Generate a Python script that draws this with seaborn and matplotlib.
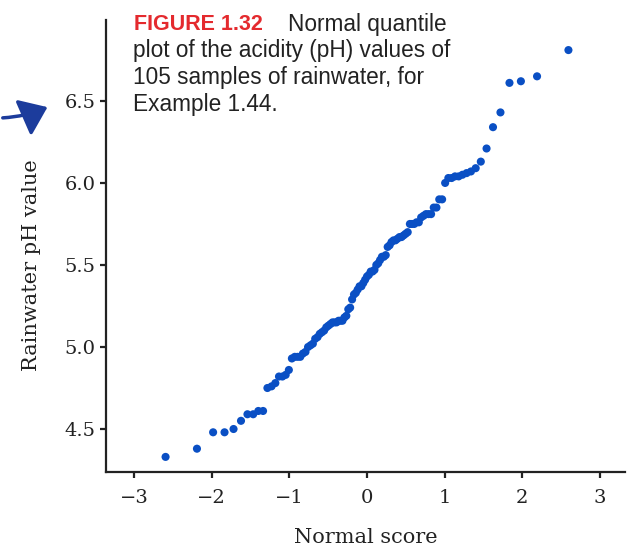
import matplotlib
matplotlib.use("Agg")
import matplotlib.pyplot as plt
from matplotlib.patches import FancyArrowPatch
import pandas as pd
import seaborn as sns

# Normal scores (x) and rainwater pH values (y), 105 samples
normal_score = [-2.593, -2.189, -1.981, -1.834, -1.718, -1.622, -1.539, -1.465, -1.399, -1.338,
                -1.282, -1.229, -1.18, -1.133, -1.089, -1.047, -1.006, -0.967, -0.93, -0.894,
                -0.859, -0.825, -0.792, -0.759, -0.728, -0.697, -0.667, -0.637, -0.608, -0.58,
                -0.552, -0.524, -0.497, -0.47, -0.444, -0.418, -0.392, -0.366, -0.341, -0.316,
                -0.291, -0.266, -0.241, -0.217, -0.192, -0.168, -0.144, -0.12, -0.096, -0.072,
                -0.048, -0.024, 0.0, 0.024, 0.048, 0.072, 0.096, 0.12, 0.144, 0.168,
                0.192, 0.217, 0.241, 0.266, 0.291, 0.316, 0.341, 0.366, 0.392, 0.418,
                0.444, 0.47, 0.497, 0.524, 0.552, 0.58, 0.608, 0.637, 0.667, 0.697,
                0.728, 0.759, 0.792, 0.825, 0.859, 0.894, 0.93, 0.967, 1.006, 1.047,
                1.089, 1.133, 1.18, 1.229, 1.282, 1.338, 1.399, 1.465, 1.539, 1.622,
                1.718, 1.834, 1.981, 2.189, 2.593]
ph_value = [4.33, 4.38, 4.48, 4.48, 4.50, 4.55, 4.59, 4.59, 4.61, 4.61,
            4.75, 4.76, 4.78, 4.82, 4.82, 4.83, 4.86, 4.93, 4.94, 4.94,
            4.94, 4.96, 4.97, 5.00, 5.01, 5.02, 5.05, 5.06, 5.08, 5.09,
            5.10, 5.12, 5.13, 5.14, 5.15, 5.15, 5.15, 5.16, 5.16, 5.16,
            5.18, 5.19, 5.23, 5.24, 5.29, 5.32, 5.33, 5.35, 5.37, 5.37,
            5.39, 5.41, 5.43, 5.44, 5.46, 5.46, 5.47, 5.50, 5.51, 5.53,
            5.55, 5.55, 5.56, 5.61, 5.62, 5.64, 5.65, 5.65, 5.66, 5.67,
            5.67, 5.68, 5.69, 5.70, 5.75, 5.75, 5.75, 5.76, 5.76, 5.79,
            5.80, 5.81, 5.81, 5.81, 5.85, 5.85, 5.90, 5.90, 6.00, 6.03,
            6.03, 6.04, 6.04, 6.05, 6.06, 6.07, 6.09, 6.13, 6.21, 6.34,
            6.43, 6.61, 6.62, 6.65, 6.81]
x_ticks = [-3, -2, -1, 0, 1, 2, 3]
x_tick_labels = ["\u22123", "\u22122", "\u22121", "0", "1", "2", "3"]
y_ticks = [4.5, 5.0, 5.5, 6.0, 6.5]
y_tick_labels = ["4.5", "5.0", "5.5", "6.0", "6.5"]

df = pd.DataFrame({"Normal score": normal_score, "Rainwater pH value": ph_value})

sns.set_style("ticks")
plt.rcParams["font.family"] = ["DejaVu Serif"]

fig = plt.figure(figsize=(6.29, 5.48), dpi=100)
ax = fig.add_axes([0.1685, 0.1387, 0.825, 0.825])

sns.scatterplot(data=df, x="Normal score", y="Rainwater pH value", ax=ax,
                color="#0a4fc4", s=34, linewidth=0, edgecolor="none")

ax.set_xlim(-3.36, 3.32)
ax.set_ylim(4.238, 6.994)
ax.set_xticks(x_ticks)
ax.set_xticklabels(x_tick_labels)
ax.set_yticks(y_ticks)
ax.set_yticklabels(y_tick_labels)
ax.tick_params(direction="out", length=4.5, width=1.6, labelsize=14, colors="#222222",
               labelcolor="#222222", pad=3)
ax.tick_params(axis="x", pad=8)
for side in ("top", "right"):
    ax.spines[side].set_visible(False)
for side in ("left", "bottom"):
    ax.spines[side].set_linewidth(1.6)
    ax.spines[side].set_color("#222222")
ax.set_xlabel("Normal score", fontsize=15, color="#222222", labelpad=15)
ax.set_ylabel("Rainwater pH value", fontsize=15, color="#222222", labelpad=17, y=0.458)

# Caption
sans = ["Liberation Sans", "DejaVu Sans"]
fig.text(134 / 629, 1 - 30 / 548, "FIGURE 1.32", color="#e42a2e", fontsize=15.5,
         fontweight="bold", family=sans, ha="left", va="baseline")
fig.text(288 / 629, 1 - 31 / 548, "Normal quantile", color="#222222", fontsize=16.3,
         family=sans, ha="left", va="baseline")
fig.text(133 / 629, 1 - 57 / 548, "plot of the acidity (pH) values of", color="#222222",
         fontsize=16.3, family=sans, ha="left", va="baseline")
fig.text(133 / 629, 1 - 84 / 548, "105 samples of rainwater, for", color="#222222",
         fontsize=16.3, family=sans, ha="left", va="baseline")
fig.text(133 / 629, 1 - 111 / 548, "Example 1.44.", color="#222222",
         fontsize=16.3, family=sans, ha="left", va="baseline")

# Hand-drawn blue arrow mark at left margin
arrow = FancyArrowPatch((0 / 629, 1 - 118 / 548), (50 / 629, 1 - 106 / 548),
                        transform=fig.transFigure, connectionstyle="arc3,rad=0.1",
                        arrowstyle="-|>,head_length=0.8,head_width=0.6", color="#1c3c9c",
                        linewidth=2.5, mutation_scale=20)
fig.patches.append(arrow)

fig.savefig("out.png", dpi=100)
